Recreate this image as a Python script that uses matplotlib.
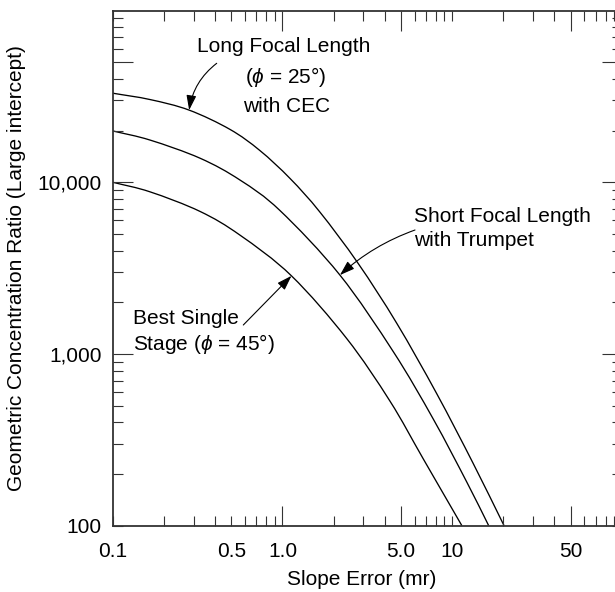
import numpy as np
import matplotlib
matplotlib.use("Agg")
import matplotlib.pyplot as plt
from matplotlib.path import Path
from matplotlib.patches import PathPatch
from matplotlib.ticker import FixedLocator, NullFormatter

plt.rcParams["font.family"] = ["Liberation Sans", "DejaVu Sans"]
plt.rcParams["mathtext.fontset"] = "custom"
plt.rcParams["mathtext.it"] = "Liberation Sans:italic"
plt.rcParams["mathtext.rm"] = "Liberation Sans"

# ---- curve data: slope error (mr) vs geometric concentration ratio ----
long_x = [0.1, 0.166, 0.282, 0.491, 0.736, 1.11, 1.66, 2.79, 4.71, 8.09, 13.3, 20.2]
long_y = [33000, 30300, 26300, 20300, 15300, 10500, 6710, 3370, 1510, 589, 230, 100]

short_x = [0.1, 0.166, 0.327, 0.562, 0.967, 2.18, 4.50, 7.73, 12.2, 16.4]
short_y = [19900, 17600, 13800, 10300, 6840, 2880, 1030, 418, 179, 100]

best_x = [0.1, 0.166, 0.327, 0.562, 1.13, 2.39, 4.30, 6.75, 11.4]
best_y = [10000, 8790, 6760, 4920, 2850, 1230, 531, 245, 100]

# ---- axis ticks ----
x_label_ticks = [0.1, 0.5, 1, 5, 10, 50]
x_label_text = ["0.1", "0.5", "1.0", "5.0", "10", "50"]
x_long_ticks = [1, 5, 50]
x_minor_ticks = [0.2, 0.3, 0.4, 0.6, 0.7, 0.8, 0.9, 2, 3, 4, 6, 7, 8, 9,
                 20, 30, 40, 60, 70, 80, 90]

y_major_ticks = [100, 1000, 10000, 50000]
y_major_text = ["100", "1,000", "10,000", ""]
y_long_ticks = [1000, 10000, 50000]
y_minor_ticks = [200, 300, 400, 500, 600, 700, 800, 900,
                 2000, 3000, 4000, 5000, 6000, 7000, 8000, 9000,
                 20000, 30000, 40000, 60000, 70000, 80000, 90000]

W, H = 615, 592
FS = 15
SPINE = "#333333"


def fig_pos(px, py):
    """Pixel position (from top-left) to figure fraction."""
    return px / W, 1 - py / H


def smooth_log_path(xs, ys):
    """Cubic Bezier path through the points, built in log-log space."""
    p = np.column_stack([np.log10(xs), np.log10(ys)])
    ext = np.vstack([2 * p[0] - p[1], p, 2 * p[-1] - p[-2]])
    verts = [p[0]]
    codes = [Path.MOVETO]
    for i in range(len(p) - 1):
        a, b, c, d = ext[i], ext[i + 1], ext[i + 2], ext[i + 3]
        verts += [b + (c - a) / 6, c - (d - b) / 6, c]
        codes += [Path.CURVE4] * 3
    return Path(10 ** np.array(verts), codes)


fig = plt.figure(figsize=(W / 100, H / 100), dpi=100)
ax = fig.add_axes([112.7 / W, 1 - 525.7 / H, 509.3 / W, 515.2 / H])

for xs, ys in [(long_x, long_y), (short_x, short_y), (best_x, best_y)]:
    ax.add_patch(PathPatch(smooth_log_path(xs, ys), fill=False,
                           edgecolor="black", lw=0.95, transform=ax.transData))

ax.set_xscale("log")
ax.set_yscale("log")
ax.set_xlim(0.1, 100)
ax.set_ylim(100, 1e5)

ax.xaxis.set_major_locator(FixedLocator(x_label_ticks))
ax.set_xticklabels(x_label_text)
ax.xaxis.set_minor_locator(FixedLocator(x_minor_ticks))
ax.xaxis.set_minor_formatter(NullFormatter())

ax.yaxis.set_major_locator(FixedLocator(y_major_ticks))
ax.set_yticklabels(y_major_text)
ax.yaxis.set_minor_locator(FixedLocator(y_minor_ticks))
ax.yaxis.set_minor_formatter(NullFormatter())

ax.tick_params(which="both", direction="in", top=True, right=True,
               width=0.8, color=SPINE, length=7.2)
ax.tick_params(axis="x", which="major", labelsize=FS, pad=11.5)
ax.tick_params(axis="y", which="major", labelsize=FS, pad=8)

for tick in ax.xaxis.get_major_ticks():
    if tick.get_loc() in x_long_ticks:
        tick.tick1line.set_markersize(14.4)
        tick.tick2line.set_markersize(14.4)
for tick in ax.yaxis.get_major_ticks():
    if tick.get_loc() in y_long_ticks:
        tick.tick1line.set_markersize(14.4)
        tick.tick2line.set_markersize(14.4)

for sp in ax.spines.values():
    sp.set_color(SPINE)
    sp.set_linewidth(1.3)

ax.set_xlabel("Slope Error (mr)", fontsize=FS, va="center")
ax.xaxis.set_label_coords(0.4895, -0.1035)
ax.set_ylabel("Geometric Concentration Ratio (Large intercept)", fontsize=FS,
              va="center")
ax.yaxis.set_label_coords(-0.188, 0.5)

# ---- curve annotations ----
fig.text(*fig_pos(284, 47), "Long Focal Length", fontsize=FS, ha="center", va="center")
fig.text(*fig_pos(286, 77), r"($\phi$ = 25°)", fontsize=FS, ha="center", va="center")
fig.text(*fig_pos(287, 107), "with CEC", fontsize=FS, ha="center", va="center")

fig.text(*fig_pos(414, 216), "Short Focal Length", fontsize=FS, ha="left", va="center")
fig.text(*fig_pos(414, 240), "with Trumpet", fontsize=FS, ha="left", va="center")

fig.text(*fig_pos(133, 319), "Best Single", fontsize=FS, ha="left", va="center")
fig.text(*fig_pos(133, 344), r"Stage ($\phi$ = 45°)", fontsize=FS, ha="left", va="center")

arrow_style = "-|>,head_length=0.9,head_width=0.3"


def pointer(tip, start_px, rad):
    ax.annotate("", xy=tip, xycoords="data",
                xytext=fig_pos(*start_px), textcoords="figure fraction",
                arrowprops=dict(arrowstyle=arrow_style, mutation_scale=10,
                                connectionstyle=f"arc3,rad={rad}",
                                color="black", lw=0.8, shrinkA=0, shrinkB=0))


pointer((long_x[2], long_y[2]), (216.7, 63.3), 0.2)
pointer((short_x[5], short_y[5]), (415, 230), 0.1)
pointer((best_x[4], best_y[4]), (243.3, 325), 0.0)

fig.savefig("out.png", dpi=100)
